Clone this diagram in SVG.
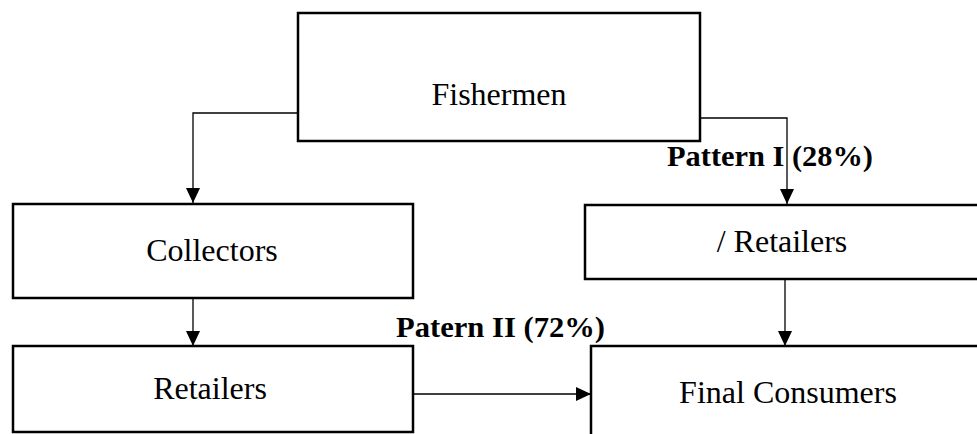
<svg xmlns="http://www.w3.org/2000/svg" width="977" height="434" viewBox="0 0 977 434">
<style>
.box{fill:#fff;stroke:#000;stroke-width:2.5}
.lbl{font-family:"Liberation Serif","Times New Roman",serif;font-size:32px;fill:#000;text-anchor:middle}
.pat{font-family:"Liberation Serif","Times New Roman",serif;font-size:30px;font-weight:bold;fill:#000}
.conn{fill:none;stroke:#000;stroke-width:1.3;marker-end:url(#arr)}
</style>
<defs>
<marker id="arr" markerWidth="15" markerHeight="14" refX="15" refY="7" orient="auto" markerUnits="userSpaceOnUse" viewBox="0 0 15 14">
<path d="M0,0 L15,7 L0,14 Z" fill="#000"/>
</marker>
</defs>
<rect width="977" height="434" fill="#fff"/>
<g id="connectors">
<polyline class="conn" points="298,113 193,113 193,203"/>
<polyline class="conn" points="700,118 787,118 787,204"/>
<line class="conn" x1="193" y1="298" x2="193" y2="346"/>
<line class="conn" x1="785" y1="279" x2="785" y2="346"/>
<line class="conn" x1="413" y1="394" x2="591" y2="394"/>
</g>
<g id="fishermen">
<rect class="box" x="298" y="13" width="402" height="128"/>
<text class="lbl" x="499" y="105">Fishermen</text>
</g>
<g id="collectors">
<rect class="box" x="13" y="204" width="400" height="94"/>
<text class="lbl" x="212" y="261">Collectors</text>
</g>
<g id="retailers-left">
<rect class="box" x="13" y="346" width="400" height="86"/>
<text class="lbl" x="210" y="399">Retailers</text>
</g>
<g id="retailers-right">
<rect class="box" x="585" y="205" width="420" height="74"/>
<text class="lbl" x="782" y="252">/ Retailers</text>
</g>
<g id="final-consumers">
<rect class="box" x="591" y="346" width="420" height="120"/>
<text class="lbl" x="788" y="403">Final Consumers</text>
</g>
<g id="labels">
<text class="pat" x="667" y="166" textLength="206" lengthAdjust="spacingAndGlyphs">Pattern I (28%)</text>
<text class="pat" x="396" y="337" textLength="209" lengthAdjust="spacingAndGlyphs">Patern II (72%)</text>
</g>
</svg>
